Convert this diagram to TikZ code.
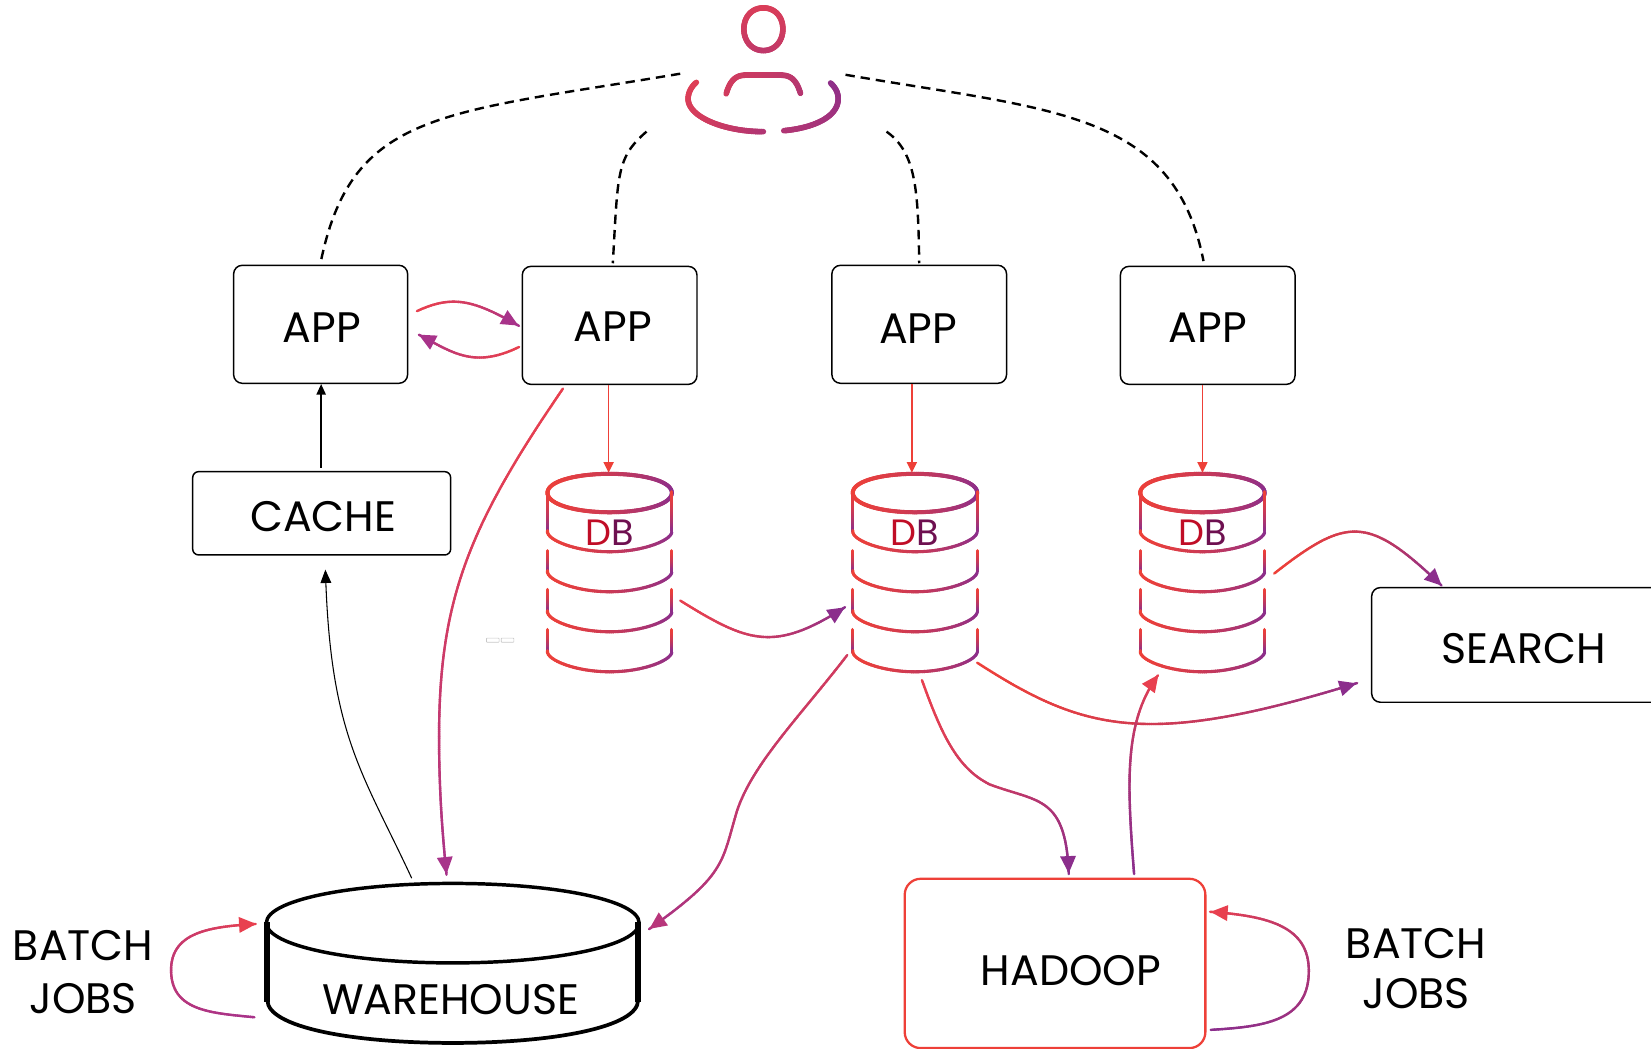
\documentclass[tikz,border=0pt]{standalone}
\usepackage{fontspec}
\setmainfont{Poppins}
\usetikzlibrary{arrows.meta,decorations.markings}
\definecolor{gr}{HTML}{EE4038}
\definecolor{gp}{HTML}{8B2E8C}
\definecolor{cr}{HTML}{E8404F}
\definecolor{hp}{HTML}{A8338A}
\definecolor{dbr}{HTML}{C00D26}
\definecolor{dbp}{HTML}{6E1050}
\tikzset{
  gradstroke/.style n args={3}{postaction={decorate,decoration={markings,
    mark=between positions 0 and 1 step 1.4pt with {
      \pgfmathparse{min(1,\pgfkeysvalueof{/pgf/decoration/mark info/distance from start}/\pgfdecoratedpathlength)}
      \pgfmathparse{100*\pgfmathresult*(0.4+0.6*\pgfmathresult)}
      \colorlet{gc}{#2!\pgfmathresult!#1}
      \draw[gc,line width=#3,line cap=round] (-0.9pt,0)--(0.9pt,0);
    }}}},
  gradarrow/.style n args={4}{gradstroke={#1}{#2}{#3},
    postaction={decorate,decoration={markings,mark=at position 0.9995 with {
      \fill[#4] (0.3pt,0)--(-12.5pt,6pt)--(-12.5pt,-6pt)--cycle;}}}},
  flow/.style 2 args={gradarrow={#1}{#2}{1.8pt}{#2}},
  dbline/.style={gradstroke={gr}{gp}{2.3pt}},
  box/.style={draw=black,line width=1.1pt,rounded corners=6.5pt,inner sep=0pt,fill=white},
  lbl/.style={font=\fontsize{32}{35}\selectfont,inner sep=0pt},
  dashlink/.style={draw=black,line width=1.8pt,dash pattern=on 7pt off 4.5pt},
  rarrow/.style={draw=gr,line width=1.2pt,-{Triangle[length=8pt,width=7.5pt]}},
  karrow/.style={draw=black,line width=1.2pt,-{Triangle[length=8pt,width=7pt]}},
}
% one database stack, centred on x = #1
\newcommand\dbstack[2]{%
  \begin{scope}[shift={(#1,0)}]
    \path[gradstroke={gr}{gp}{3pt}] (-59,468) .. controls (-59,457) and (-32,450) .. (0,450) .. controls (32,450) and (59,457) .. (59,468);
    \path[gradstroke={gr}{gp}{3pt}] (-59,468) .. controls (-59,479) and (-32,486.5) .. (0,486.5) .. controls (32,486.5) and (59,479) .. (59,468);
    \foreach \ya/\yb in {468/505,524/543,561/581,599/619}{
      \path[dbline] (-59,\ya) -- (-59,\yb);
      \path[dbline] (59,\ya) -- (59,\yb);
      \pgfmathsetmacro\yc{\yb+19}
      \pgfmathsetmacro\yd{\yb+8}
      \pgfmathsetmacro\ye{\yb}
      \path[dbline] (-59,\ye) .. controls (-59,\yd) and (-32,\yc) .. (0,\yc) .. controls (32,\yc) and (59,\yd) .. (59,\ye);
    }
  \end{scope}
  \node[lbl,font=\fontsize{27.5}{30}\selectfont] (#2) at (#1,506) {\textcolor{dbr}{D}\textcolor{dbp}{B}};
}
\begin{document}
\begin{tikzpicture}[x=0.78973pt,y=-0.78973pt]
\useasboundingbox (0,0) rectangle (1568,996);
% user icon
\coordinate (user) at (725,70);
\path[gradstroke={cr!85!gp}{cr!65!gp}{4.2pt}] (725,7.5) .. controls (714,7.5) and (706.5,16) .. (706.5,27.5) .. controls (706.5,39) and (714,48) .. (725,48);
\path[gradstroke={cr!85!gp}{cr!65!gp}{4.2pt}] (725,7.5) .. controls (736,7.5) and (743.5,16) .. (743.5,27.5) .. controls (743.5,39) and (736,48) .. (725,48);
\path[gradstroke={cr!75!gp}{cr!60!gp}{4.2pt}] (690,88) .. controls (693,78) and (698,71.5) .. (707,71.5) -- (743,71.5) .. controls (752,71.5) and (757,78) .. (760,88);
\path[gradstroke={cr!90!gp}{cr!45!gp}{4.2pt}] (660.5,79) .. controls (655,84) and (653.5,90) .. (653.5,94) .. controls (654,112) and (690,125) .. (724,125);
\path[gradstroke={cr!40!gp}{gp!90!cr}{4.2pt}] (745.5,124) .. controls (775,121) and (796,110) .. (796,94) .. controls (796,88) and (794,84) .. (789,79);
% application boxes
\node[box,minimum width=130.5pt,minimum height=88.5pt,lbl,label={[lbl,shift={(1,3)}]center:APP}] (app1) at (304.5,308) {};
\node[box,minimum width=131pt,minimum height=88.5pt,lbl,label={[lbl,shift={(3,1)}]center:APP}] (app2) at (579,309) {};
\node[box,minimum width=131pt,minimum height=88.5pt,lbl,label={[lbl,shift={(-1,4)}]center:APP}] (app3) at (873,308) {};
\node[box,minimum width=131pt,minimum height=88.5pt,lbl,label={[lbl,shift={(0,2)}]center:APP}] (app4) at (1147,309) {};
\node[box,rounded corners=4.5pt,minimum width=193.5pt,minimum height=62.5pt,lbl,label={[lbl,shift={(1.5,3)}]center:CACHE}] (cache) at (305.5,487.5) {};
\node[box,minimum width=220pt,minimum height=86pt,lbl,label={[lbl,shift={(5,3)}]center:SEARCH}] (search) at (1442,612.5) {};
\node[box,draw=gr,line width=1.7pt,rounded corners=12pt,minimum width=225.5pt,minimum height=127pt,lbl,label={[lbl,shift={(15,7)}]center:HADOOP}] (hadoop) at (1002,915) {};
% warehouse
\fill[white] (252,876) -- (252,953) .. controls (252,975) and (330,991) .. (430,991) .. controls (530,991) and (607,975) .. (607,953) -- (607,876) -- cycle;
\draw[line width=2.6pt,fill=white] (253,876.5) .. controls (253,855) and (332,839) .. (430,839) .. controls (528,839) and (607,855) .. (607,876.5) .. controls (607,898) and (528,914.5) .. (430,914.5) .. controls (332,914.5) and (253,898) .. (253,876.5) -- cycle;
\draw[line width=2.8pt] (254,950) .. controls (254,975) and (332,990.5) .. (430,990.5) .. controls (528,990.5) and (606,975) .. (606,950);
\draw[line width=4.5pt] (254,876) -- (254,952);
\draw[line width=4.5pt] (606,876) -- (606,952);
\node[lbl] (warehouse) at (428,949) {WAREHOUSE};
% database stacks
\dbstack{579}{db1}
\dbstack{869}{db2}
\dbstack{1142}{db3}
% faint marks
\draw[black!22,line width=0.5pt,rounded corners=0.5pt] (462,606) rectangle (474,610);
\draw[black!22,line width=0.5pt,rounded corners=0.5pt] (476,606) rectangle (488,610);
% free ends
\coordinate (d1s) at (646,70);\coordinate (d1e) at (305,247);
\coordinate (d2s) at (614,125);\coordinate (d2e) at (582,250);
\coordinate (d3s) at (842,125);\coordinate (d3e) at (873,250);
\coordinate (d4s) at (803,71);\coordinate (d4e) at (1143,248);
\coordinate (a12s) at (397,295);\coordinate (a12e) at (492,309);
\coordinate (a21s) at (492,330);\coordinate (a21e) at (398,318);
\coordinate (w1) at (391,834);\coordinate (c1) at (309,541);
\coordinate (a2w) at (534,370);\coordinate (wt) at (424,830);
\coordinate (d1o) at (647,571);\coordinate (d2i) at (802,577);
\coordinate (d2w) at (804,623);\coordinate (wr) at (617,882);
\coordinate (d2s1) at (929,630);\coordinate (si) at (1288,649);
\coordinate (d2h) at (876,647);\coordinate (ht) at (1015,829);
\coordinate (h3) at (1077,829);\coordinate (d3i) at (1100,641);
\coordinate (d3o) at (1211,544);\coordinate (st) at (1369,556);
\coordinate (bls) at (240.5,966);\coordinate (ble) at (243,877.5);
\coordinate (brs) at (1151,978);\coordinate (bre) at (1150,866);
% dashed links
\draw[dashlink] (d1s) .. controls (420,108) and (335,105) .. (d1e);
\draw[dashlink] (d2s) .. controls (585,150) and (587,165) .. (d2e);
\draw[dashlink] (d3s) .. controls (870,145) and (872,180) .. (d3e);
\draw[dashlink] (d4s) .. controls (1000,105) and (1115,105) .. (d4e);
% straight arrows
\draw[rarrow] (app2.south -| 578,0) -- (578,449);
\draw[rarrow] (app3.south -| 866,0) -- (866,449);
\draw[rarrow] (app4.south -| 1142,0) -- (1142,449);
\draw[karrow] (cache.north -| 305,0) ++(0,-3) -- (app1.south -| 305,0);
\draw[black,line width=0.8pt,-{Triangle[length=10pt,width=8pt]}] (w1) .. controls (345,735) and (315,700) .. (c1);
% gradient arrows
\path[gradarrow={cr}{hp}{1.8pt}{hp}] (a12s) .. controls (430,280) and (450,285) .. (a12e);
\path[gradarrow={cr}{hp}{1.8pt}{hp}] (a21s) .. controls (450,350) and (430,335) .. (a21e);
\path[flow={cr}{hp}] (a2w) .. controls (445,500) and (417,570) .. (417,700) .. controls (417,750) and (420,790) .. (wt);
\path[flow={cr}{gp}] (d1o) .. controls (710,610) and (735,620) .. (d2i);
\path[gradarrow={cr!75!gp}{hp!85!cr}{1.8pt}{hp!75!cr}] (d2w) .. controls (760,680) and (715,725) .. (700,770) .. controls (685,820) and (690,830) .. (wr);
\path[flow={gr!90!cr}{gp}] (d2s1) .. controls (1030,695) and (1090,710) .. (si);
\path[flow={cr}{gp}] (d2h) .. controls (895,700) and (910,730) .. (940,745) .. controls (985,762) and (1012,755) .. (ht);
\path[flow={gp}{cr}] (h3) .. controls (1070,740) and (1068,685) .. (d3i);
\path[flow={gr}{gp}] (d3o) .. controls (1280,490) and (1300,490) .. (st);
\path[flow={hp}{cr}] (bls) .. controls (200,962) and (163,960) .. (162.5,922) .. controls (162,885) and (200,880) .. (ble);
\path[flow={gp}{cr}] (brs) .. controls (1200,975) and (1243,970) .. (1243,922) .. controls (1243,880) and (1205,870) .. (bre);
% batch labels
\node[lbl] (bl1) at (79,898) {BATCH};
\node[lbl] (bl2) at (79,948) {JOBS};
\node[lbl] (br1) at (1345,896) {BATCH};
\node[lbl] (br2) at (1345,944) {JOBS};
\end{tikzpicture}
\end{document}
